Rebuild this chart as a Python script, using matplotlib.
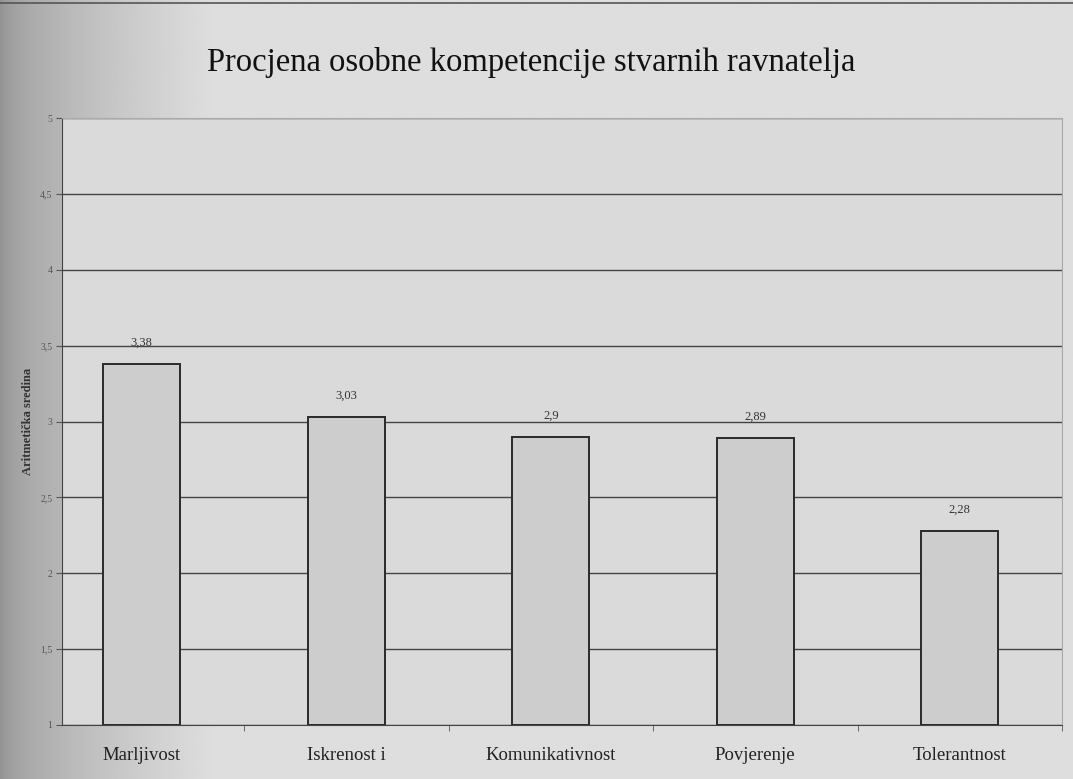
import matplotlib
matplotlib.use("Agg")
import matplotlib.pyplot as plt
import numpy as np

TITLE = "Procjena osobne kompetencije stvarnih ravnatelja"
Y_LABEL = "Aritmetička sredina"
CATEGORIES = ["Marljivost", "Iskrenost i", "Komunikativnost", "Povjerenje", "Tolerantnost"]
MEANS = [3.38, 3.03, 2.9, 2.89, 2.28]
VALUE_LABELS = ["3,38", "3,03", "2,9", "2,89", "2,28"]
Y_TICKS = [1, 1.5, 2, 2.5, 3, 3.5, 4, 4.5, 5]
Y_TICK_LABELS = ["1", "1,5", "2", "2,5", "3", "3,5", "4", "4,5", "5"]

plt.rcParams["font.family"] = ["Liberation Serif", "DejaVu Serif"]

fig = plt.figure(figsize=(10.73, 7.79), dpi=100)
fig.patch.set_facecolor("#dcdcdc")

# paper shading: darker towards the left edge of the page
bg = fig.add_axes([0, 0, 1, 1], zorder=-10)
grad = np.linspace(0, 1, 400)
shade = 0.58 + 0.29 * np.clip(grad / 0.2, 0, 1) ** 0.6
bg.imshow(np.tile(shade, (10, 1)), cmap="gray", vmin=0, vmax=1,
          aspect="auto", extent=[0, 1, 0, 1])
bg.axhline(0.996, color="#555555", lw=1.2)
bg.set_xlim(0, 1)
bg.set_ylim(0, 1)
bg.axis("off")

ax = fig.add_axes([62 / 1073, 1 - 725 / 779, 1000 / 1073, 607 / 779])
ax.set_facecolor("#dadada")
x = np.arange(len(CATEGORIES))
ax.bar(x, [m - 1 for m in MEANS], bottom=1, width=0.375, color="#cdcdcd",
       edgecolor="#2a2a2a", linewidth=1.4, zorder=3)
for xi, m, lab in zip(x, MEANS, VALUE_LABELS):
    ax.text(xi, m + 0.1, lab, ha="center", va="bottom", fontsize=9, color="#333333")

ax.set_xlim(-0.39, len(CATEGORIES) - 0.5)
ax.set_ylim(1, 5)
ax.set_yticks(Y_TICKS)
ax.set_yticklabels(Y_TICK_LABELS, fontsize=7, color="#555555")
ax.set_xticks(x)
ax.set_xticklabels(CATEGORIES, fontsize=13.5, color="#222222")
ax.set_xticks(np.arange(len(CATEGORIES)) + 0.5, minor=True)
ax.tick_params(axis="x", which="major", length=0, pad=16)
ax.tick_params(axis="x", which="minor", length=4, color="#555555")
ax.tick_params(axis="y", length=4, color="#555555", pad=3)
ax.yaxis.grid(True, color="#444444", lw=1.0, zorder=1)
ax.set_axisbelow(True)
for side in ["top", "right"]:
    ax.spines[side].set_color("#aaaaaa")
for side in ["left", "bottom"]:
    ax.spines[side].set_color("#444444")

ax.set_ylabel(Y_LABEL, fontsize=9, fontweight="bold", color="#333333", labelpad=4)
fig.text(531 / 1073, 1 - 62 / 779, TITLE, ha="center", va="center",
         fontsize=23.5, color="#111111")

fig.savefig("out.png", dpi=100, facecolor=fig.get_facecolor())
